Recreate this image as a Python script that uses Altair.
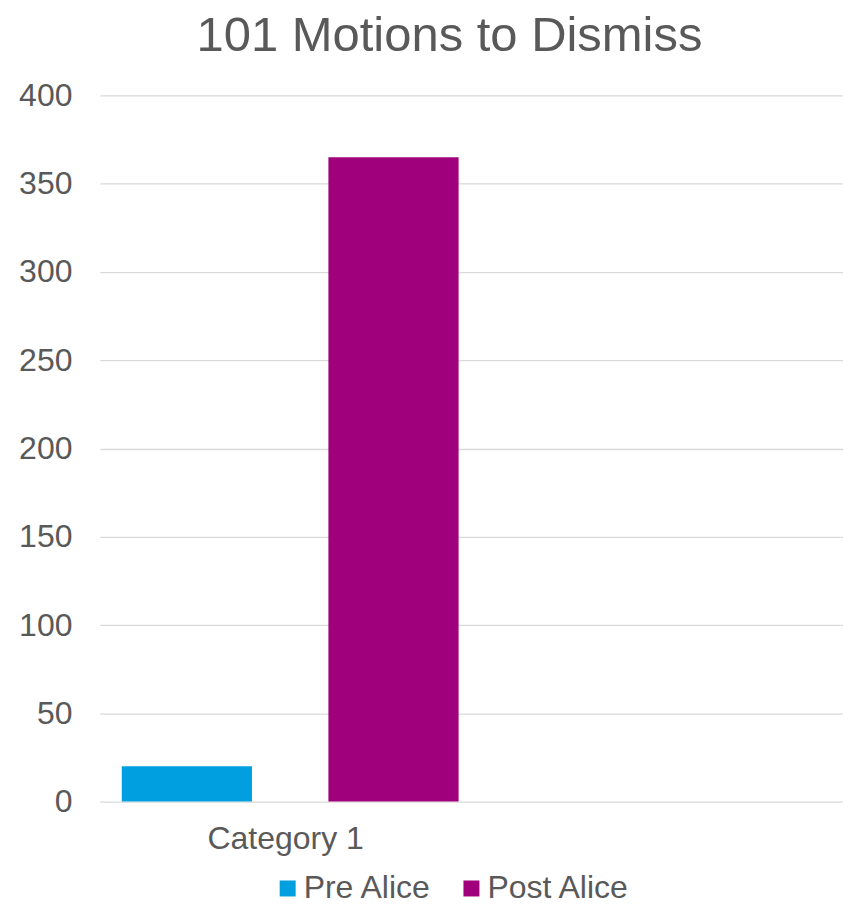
import altair as alt
import pandas as pd

categories = ["Category 1", " "]
series = ["Pre Alice", "Post Alice"]
values = [20, 365]
colors = ["#009FDF", "#A0007B"]
y_ticks = [0, 50, 100, 150, 200, 250, 300, 350, 400]

df = pd.DataFrame({
    "category": [categories[0]] * len(series),
    "series": series,
    "value": values,
})

FONT = "Liberation Sans"
GREY = "#595959"

chart = alt.Chart(df).mark_bar().encode(
    x=alt.X(
        "category:N",
        scale=alt.Scale(domain=categories, paddingInner=0, paddingOuter=0),
        axis=alt.Axis(title=None, labelAngle=0, ticks=False, domain=False,
                      labelFontSize=32, labelColor=GREY, labelFont=FONT,
                      labelPadding=22, grid=False),
    ),
    xOffset=alt.XOffset(
        "series:N",
        scale=alt.Scale(domain=series, paddingInner=0.37, paddingOuter=0.084,
                        align=0.63),
    ),
    y=alt.Y(
        "value:Q",
        scale=alt.Scale(domain=[0, 400], nice=False),
        axis=alt.Axis(title=None, values=y_ticks, ticks=False, domain=False,
                      labelFontSize=32, labelColor=GREY, labelFont=FONT,
                      labelPadding=28, gridColor="#D9D9D9", gridWidth=1.3),
    ),
    color=alt.Color(
        "series:N",
        scale=alt.Scale(domain=series, range=colors),
        legend=alt.Legend(title=None, orient="none", legendX=172, legendY=778,
                          direction="horizontal", symbolType="square",
                          symbolSize=256, symbolStrokeWidth=0,
                          labelFontSize=32, labelColor=GREY, labelFont=FONT,
                          labelOffset=0, columnPadding=23, padding=0),
    ),
).properties(
    width=744,
    height=707,
    title=alt.TitleParams("101 Motions to Dismiss", fontSize=49, color=GREY,
                          font=FONT, fontWeight="normal", anchor="middle",
                          offset=18, dx=-22),
    padding={"left": 10, "top": 4, "right": 0, "bottom": 0},
).configure_view(stroke=None)

chart.save("out.html", embed_options={"renderer": "svg", "actions": False})
